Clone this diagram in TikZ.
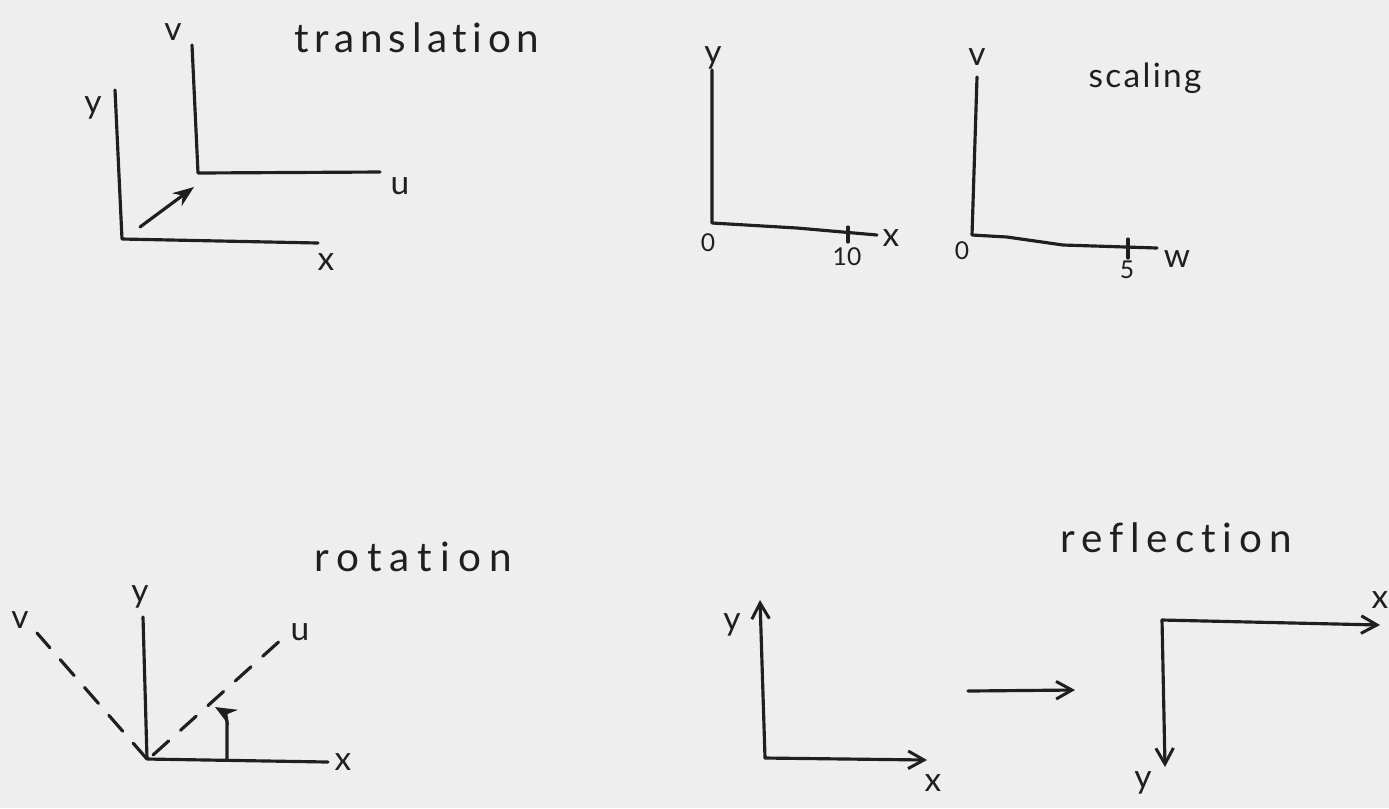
\documentclass[tikz,border=0pt]{standalone}
\usepackage{fontspec}
\setmainfont{Lato}[Ligatures={NoCommon,NoRequired,NoContextual}]
\newfontfamily\ttlA[LetterSpace=14,Ligatures={NoCommon,NoRequired,NoContextual}]{Lato}
\newfontfamily\ttlB[LetterSpace=20,Ligatures={NoCommon,NoRequired,NoContextual}]{Lato}
\newfontfamily\ttlC[LetterSpace=17,Ligatures={NoCommon,NoRequired,NoContextual}]{Lato}
\newfontfamily\ttlD[LetterSpace=7,Ligatures={NoCommon,NoRequired,NoContextual}]{Lato}
\usetikzlibrary{arrows.meta}
\definecolor{paper}{HTML}{EEEEEE}
\definecolor{ink}{HTML}{1F1F1F}
\begin{document}
\begin{tikzpicture}[x=0.01cm,y=-0.01cm,
  axis/.style={draw=ink,line width=0.9pt,line cap=round,line join=round},
  dashaxis/.style={axis,dash pattern=on 6pt off 4.5pt},
  barb/.style={-{Straight Barb[length=4.5pt,width=5pt,line width=0.85pt]}},
  lbl/.style={text=ink,font=\fontsize{9.5}{10}\selectfont,inner sep=0pt},
  num/.style={text=ink,font=\fontsize{7}{8}\selectfont,inner sep=0pt},
  ttl/.style={text=ink,inner sep=0pt}]
\fill[paper] (0,0) rectangle (1389,808);
\useasboundingbox (0,0) rectangle (1389,808);

% ---------------- translation ----------------
\node[ttl,font=\ttlA\fontsize{11.5}{12}\selectfont] (t-title) at (417,38) {translation};
\coordinate (t-ytop) at (115,90);
\coordinate (t-o1) at (122,239);
\coordinate (t-xend) at (318,243);
\coordinate (t-vtop) at (192,45);
\coordinate (t-o2) at (198,173);
\coordinate (t-uend) at (380,172);
\coordinate (t-as) at (140,227);
\coordinate (t-ae) at (194,187);
\draw[axis] (t-ytop) -- (t-o1) -- (t-xend);
\draw[axis] (t-vtop) -- (t-o2) -- (t-uend);
\draw[axis,-{Stealth[length=6pt,width=4.5pt]}] (t-as) -- (t-ae);
\node[lbl] (t-y) at (93,108) {y};
\node[lbl] (t-x) at (326,262) {x};
\node[lbl] (t-v) at (173,32) {v};
\node[lbl] (t-u) at (400,186) {u};

% ---------------- scaling ----------------
\node[ttl,font=\ttlD\fontsize{9.5}{10}\selectfont] (s-title) at (1145,78) {scaling};
\coordinate (s-ytop) at (712,70);
\coordinate (s-o1) at (712,223);
\coordinate (s-xm) at (797,228);
\coordinate (s-xend) at (877,235);
\coordinate (s-t1a) at (848,227);
\coordinate (s-t1b) at (848,242);
\draw[axis] (s-ytop) -- (s-o1) -- (s-xm) -- (s-xend);
\draw[axis] (s-t1a) -- (s-t1b);
\node[lbl] (s-y) at (713,58) {y};
\node[num] (s-0a) at (708,243) {0};
\node[num] (s-10) at (847,257) {10};
\node[lbl] (s-x) at (891,238) {x};
\coordinate (s-vtop) at (977,77);
\coordinate (s-o2) at (972,235);
\coordinate (s-w1) at (1007,237);
\coordinate (s-w2) at (1063,245);
\coordinate (s-wend) at (1157,248);
\coordinate (s-t2a) at (1128,239);
\coordinate (s-t2b) at (1128,258);
\draw[axis] (s-vtop) -- (s-o2) -- (s-w1) -- (s-w2) -- (s-wend);
\draw[axis] (s-t2a) -- (s-t2b);
\node[lbl] (s-v) at (977,57) {v};
\node[num] (s-0b) at (962,251) {0};
\node[num] (s-5) at (1127,270) {5};
\node[lbl] (s-w) at (1177,259) {w};

% ---------------- rotation ----------------
\node[ttl,font=\ttlB\fontsize{11.5}{12}\selectfont] (r-title) at (413,557) {rotation};
\coordinate (r-ytop) at (143,617);
\coordinate (r-o) at (147,759);
\coordinate (r-xend) at (328,762);
\coordinate (r-vend) at (37,633);
\coordinate (r-us) at (153,755);
\coordinate (r-uend) at (283,638);
\coordinate (r-as) at (227,760);
\coordinate (r-am) at (227,724);
\coordinate (r-ae) at (215,707);
\draw[axis,-{Stealth[length=6pt,width=5pt]}] (r-as) -- (r-am) .. controls (227,716) and (222,711) .. (r-ae);
\draw[axis] (r-ytop) -- (r-o) -- (r-xend);
\draw[dashaxis] (r-o) -- (r-vend);
\draw[dashaxis] (r-us) -- (r-uend);
\node[lbl] (r-y) at (140,597) {y};
\node[lbl] (r-x) at (343,762) {x};
\node[lbl] (r-v) at (20,620) {v};
\node[lbl] (r-u) at (300,632) {u};

% ---------------- reflection ----------------
\node[ttl,font=\ttlC\fontsize{11.5}{12}\selectfont] (f-title) at (1176,538) {reflection};
\coordinate (f-ytop) at (760,600);
\coordinate (f-o1) at (765,758);
\coordinate (f-xend) at (927,760);
\draw[axis,barb] (f-o1) -- (f-ytop);
\draw[axis,barb] (f-o1) -- (f-xend);
\node[lbl] (f-y1) at (732,625) {y};
\node[lbl] (f-x1) at (933,783) {x};
\coordinate (f-ms) at (968,691);
\coordinate (f-me) at (1075,690);
\draw[axis,barb] (f-ms) -- (f-me);
\coordinate (f-o2) at (1162,620);
\coordinate (f-x2end) at (1380,625);
\coordinate (f-y2end) at (1165,767);
\draw[axis,barb] (f-o2) -- (f-x2end);
\draw[axis,barb] (f-o2) -- (f-y2end);
\node[lbl,anchor=east] (f-x2) at (1389,600) {x};
\node[lbl] (f-y2) at (1143,783) {y};
\end{tikzpicture}
\end{document}
